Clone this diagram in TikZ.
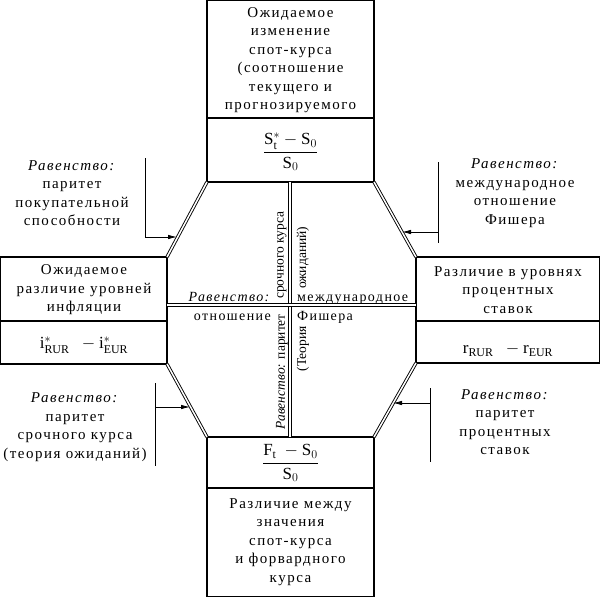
\documentclass[tikz,border=0pt]{standalone}
\usepackage{amsmath}
\usepackage{fontspec}
\setmainfont{Liberation Serif}
\usetikzlibrary{arrows.meta}
\begin{document}
\begin{tikzpicture}[x=1pt,y=-1pt,
  box/.style={draw,line width=1.1pt},
  dbl/.style={double,line width=0.9pt,double distance=1.5pt},
  arr/.style={line width=0.8pt,-{Latex[length=9pt,width=4.5pt]}},
  txt/.style={align=center,font=\fontsize{15}{18.5}\selectfont\addfontfeatures{LetterSpace=10}},
  vt/.style={font=\fontsize{13.5}{15}\selectfont,rotate=90,inner sep=1pt},
  ct/.style={font=\fontsize{14}{15}\selectfont\addfontfeatures{LetterSpace=10},inner sep=1pt},
  fr/.style={font=\fontsize{17}{19}\selectfont}]
\useasboundingbox (0,0) rectangle (600,597);
% boxes
\draw[box] (207,0.5) rectangle (374,182); \draw[box] (207,118) -- (374,118);
\draw[box] (0.6,257) rectangle (167,364); \draw[box] (0.6,321) -- (167,321);
\draw[box] (416,257) rectangle (599.4,363); \draw[box] (416,321) -- (599.4,321);
\draw[box] (207,437) rectangle (374,596.4); \draw[box] (207,488) -- (374,488);
% coordinates
\coordinate (a1) at (207,182); \coordinate (a2) at (167,257);
\coordinate (b1) at (374,182); \coordinate (b2) at (416,257);
\coordinate (c1) at (167,364); \coordinate (c2) at (207,437);
\coordinate (d1) at (416,363); \coordinate (d2) at (374,437);
\coordinate (vt) at (290,182); \coordinate (vb) at (290,437);
\coordinate (hl) at (167,305); \coordinate (hr) at (416,305);
\draw[dbl] (a1)--(a2); \draw[dbl] (b1)--(b2); \draw[dbl] (c1)--(c2); \draw[dbl] (d1)--(d2);
\draw[dbl] (vt)--(vb); \draw[dbl] (hl)--(hr);
% box texts
\node[txt] (t1) at (290.5,60) {Ожидаемое\\изменение\\спот-курса\\(соотношение\\текущего и\\прогнозируемого};
\node[fr] (f1) at (290.5,152) {$\dfrac{\mathrm{S}_\mathrm{t}^{*}-\mathrm{S}_0}{\mathrm{S}_0}$};
\node[txt] (t2) at (84,290) {Ожидаемое\\различие уровней\\инфляции};
\node[fr] (f2) at (84,345) {$\mathrm{i}^{*}_{\mathrm{RUR}}\ \ -\mathrm{i}^{*}_{\mathrm{EUR}}$};
\node[txt] (t3) at (508,290) {Различие в уровнях\\процентных\\ставок};
\node[fr] (f3) at (508,350) {$\mathrm{r}_{\mathrm{RUR}}\ \ -\mathrm{r}_{\mathrm{EUR}}$};
\node[fr] (f4) at (290.5,463) {$\dfrac{\mathrm{F}_\mathrm{t}\ -\mathrm{S}_0}{\mathrm{S}_0}$};
\node[txt] (t4) at (290.5,542) {Различие между\\значения\\спот-курса\\и форвардного\\курса};
% side annotations
\node[txt] (n1) at (72,193) {\textit{Равенство:}\\паритет\\покупательной\\способности};
\coordinate (l1t) at (145,158); \coordinate (l1b) at (145,238); \coordinate (l1a) at (145,237); \coordinate (e1) at (177,237);
\draw[line width=0.8pt] (l1t)--(l1b); \draw[arr] (l1a)--(e1);
\node[txt] (n2) at (515,193) {\textit{Равенство:}\\международное\\отношение\\Фишера};
\coordinate (l2t) at (438,162); \coordinate (l2b) at (438,243); \coordinate (l2a) at (438,232); \coordinate (e2) at (402,232);
\draw[line width=0.8pt] (l2t)--(l2b); \draw[arr] (l2a)--(e2);
\node[txt] (n3) at (75,427) {\textit{Равенство:}\\паритет\\срочного курса\\(теория ожиданий)};
\coordinate (l3t) at (155,383); \coordinate (l3b) at (155,466); \coordinate (l3a) at (155,407); \coordinate (e3) at (190,407);
\draw[line width=0.8pt] (l3t)--(l3b); \draw[arr] (l3a)--(e3);
\node[txt] (n4) at (505,422) {\textit{Равенство:}\\паритет\\процентных\\ставок};
\coordinate (l4t) at (430,388); \coordinate (l4b) at (430,462); \coordinate (l4a) at (430,403); \coordinate (e4) at (393,403);
\draw[line width=0.8pt] (l4t)--(l4b); \draw[arr] (l4a)--(e4);
% center texts
\node[ct,anchor=base east] (c1t) at (272,301) {\textit{Равенство:}};
\node[ct,anchor=base east] (c2t) at (272,320) {отношение};
\node[ct,anchor=base west] (c3t) at (296,301) {международное};
\node[ct,anchor=base west] (c4t) at (296,320) {Фишера};
\node[vt,anchor=west] (v1) at (282,300) {срочного курса};
\node[vt,anchor=east] (v2) at (282,313) {\textit{Равенство:} паритет};
\node[vt,anchor=west] (v3) at (303,290) {ожиданий)};
\node[vt,anchor=east] (v4) at (303,325) {(Теория};
\end{tikzpicture}
\end{document}
